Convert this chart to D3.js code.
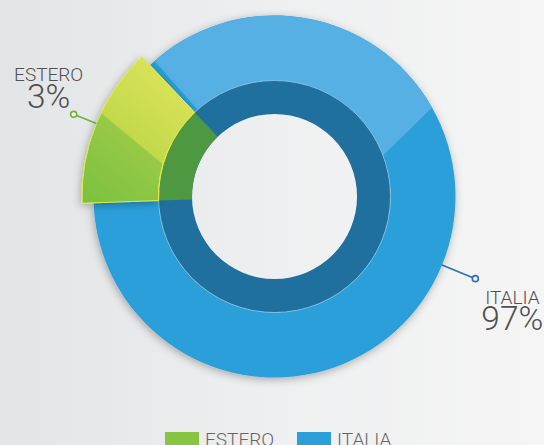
<!DOCTYPE html>
<html>
<head>
<meta charset="utf-8">
<script src="https://cdn.jsdelivr.net/npm/d3@7"></script>
<style>
  html, body { margin: 0; padding: 0; overflow: hidden; }
  text { font-family: Roboto, "Liberation Sans", sans-serif; font-weight: 300; }
</style>
</head>
<body>
<div id="chart"></div>
<script>
// data
var categories = ["ESTERO", "ITALIA"];
var shares = [3, 97];
var colors = ["#86c441", "#2a9fd9"];

var width = 544, height = 445;
var cx = 274.5, cy = 196.5;
var rHole = 82.5, rMid = 116, rOuter = 181, rWedge = 192.5;

var rad = Math.PI / 180;
// the small share is drawn as an exaggerated wedge, like the original infographic
var wedgeStart = -92 * rad, wedgeEnd = -43.5 * rad;

var svg = d3.select("#chart").append("svg")
  .attr("width", width)
  .attr("height", height);

var defs = svg.append("defs");

// background
var bg = defs.append("linearGradient").attr("id", "bg")
  .attr("x1", 0).attr("y1", 0).attr("x2", 1).attr("y2", 0);
bg.append("stop").attr("offset", 0).attr("stop-color", "#e3e4e6");
bg.append("stop").attr("offset", 0.5).attr("stop-color", "#eeeff0");
bg.append("stop").attr("offset", 1).attr("stop-color", "#f5f5f5");

svg.append("rect")
  .attr("width", width).attr("height", height)
  .attr("fill", "url(#bg)");

var shadow = defs.append("filter").attr("id", "shadow")
  .attr("x", "-20%").attr("y", "-20%").attr("width", "140%").attr("height", "140%");
shadow.append("feDropShadow")
  .attr("dx", -1).attr("dy", 2).attr("stdDeviation", 4)
  .attr("flood-color", "#000").attr("flood-opacity", 0.3);

// green wedge gradient (gloss split)
var gg = defs.append("linearGradient").attr("id", "greenGrad")
  .attr("gradientUnits", "userSpaceOnUse")
  .attr("x1", 79 - cx).attr("y1", 199 - cy)
  .attr("x2", 194 - cx).attr("y2", 60 - cy);
gg.append("stop").attr("offset", 0).attr("stop-color", "#7bc142");
gg.append("stop").attr("offset", 0.44).attr("stop-color", "#97c945");
gg.append("stop").attr("offset", 0.45).attr("stop-color", "#c3d94b");
gg.append("stop").attr("offset", 1).attr("stop-color", "#e2e65e");

// highlight clip on the blue ring
defs.append("clipPath").attr("id", "gloss")
  .append("polygon")
  .attr("points", [[101, 0], [542, 0], [305, 232]]
    .map(function(p) { return (p[0] - cx) + "," + (p[1] - cy); }).join(" "));

var g = svg.append("g")
  .attr("transform", "translate(" + cx + "," + cy + ")");

var pie = d3.pie().sort(null).value(function(d) { return d; });
var arcs = pie(shares);
// override the angles with the drawn layout
arcs[0].startAngle = wedgeStart; arcs[0].endAngle = wedgeEnd;
arcs[1].startAngle = wedgeEnd; arcs[1].endAngle = wedgeStart + 2 * Math.PI;

var outerArc = d3.arc().innerRadius(rMid).outerRadius(rOuter);
var ringArc = d3.arc().innerRadius(rHole).outerRadius(rMid);
var wedgeArc = d3.arc().innerRadius(rMid).outerRadius(rWedge);

// blue outer ring
g.append("path")
  .attr("d", outerArc(arcs[1]))
  .attr("fill", colors[1])
  .attr("filter", "url(#shadow)");

g.append("path")
  .attr("d", outerArc(arcs[1]))
  .attr("fill", "#56b0e3")
  .attr("clip-path", "url(#gloss)");

// dark inner ring
g.append("path")
  .attr("d", ringArc({startAngle: 0, endAngle: 2 * Math.PI}))
  .attr("fill", "#1f6f9f");

g.append("circle")
  .attr("r", rMid)
  .attr("fill", "none")
  .attr("stroke", "#a9d6f0")
  .attr("stroke-width", 0.8)
  .attr("stroke-opacity", 0.8);

// green wedge
g.append("path")
  .attr("d", wedgeArc(arcs[0]))
  .attr("fill", "url(#greenGrad)")
  .attr("stroke", "#e4e84a")
  .attr("stroke-width", 1)
  .attr("filter", "url(#shadow)");

g.append("path")
  .attr("d", ringArc(arcs[0]))
  .attr("fill", "#4d9841");

g.append("path")
  .attr("d", d3.arc().innerRadius(rMid).outerRadius(rMid)(arcs[0]))
  .attr("fill", "none")
  .attr("stroke", "#e4e84a")
  .attr("stroke-width", 1);

// leaders + labels
var leaderFrom = [rWedge, rOuter];
var leaderTo = 217;
var lineColors = ["#6db33f", "#2a6fb4"];
var labelOffset = [[-25, -33, -6], [37, 25, 51]];

arcs.forEach(function(a, i) {
  var mid = (a.startAngle + a.endAngle) / 2;
  var sx = Math.sin(mid), sy = -Math.cos(mid);
  var p0 = [sx * leaderFrom[i], sy * leaderFrom[i]];
  var p1 = [sx * leaderTo, sy * leaderTo];

  g.append("line")
    .attr("x1", p0[0]).attr("y1", p0[1])
    .attr("x2", p1[0]).attr("y2", p1[1])
    .attr("stroke", lineColors[i]).attr("stroke-width", 1.6);

  g.append("circle")
    .attr("cx", p1[0]).attr("cy", p1[1]).attr("r", 3)
    .attr("fill", "#f2f2f2")
    .attr("stroke", lineColors[i]).attr("stroke-width", 1.6);

  var tx = p1[0] + labelOffset[i][0];
  g.append("text")
    .attr("x", tx).attr("y", p1[1] + labelOffset[i][1])
    .attr("text-anchor", "middle")
    .attr("font-size", 19)
    .attr("fill", "#505050")
    .text(categories[i]);

  g.append("text")
    .attr("x", tx).attr("y", p1[1] + labelOffset[i][2])
    .attr("text-anchor", "middle")
    .attr("font-size", 33.5)
    .attr("fill", "#505050")
    .text(shares[i] + "%");
});

// legend
var legendX = d3.scalePoint().domain(categories).range([165, 297]);

var legend = svg.selectAll(".legend").data(categories).enter()
  .append("g")
  .attr("class", "legend")
  .attr("transform", function(d) { return "translate(" + legendX(d) + ",432)"; });

legend.append("rect")
  .attr("width", 34).attr("height", 16)
  .attr("fill", function(d, i) { return colors[i]; });

legend.append("text")
  .attr("x", 40).attr("y", 14)
  .attr("font-size", 19)
  .attr("fill", "#666")
  .text(function(d) { return d; });
</script>
</body>
</html>
